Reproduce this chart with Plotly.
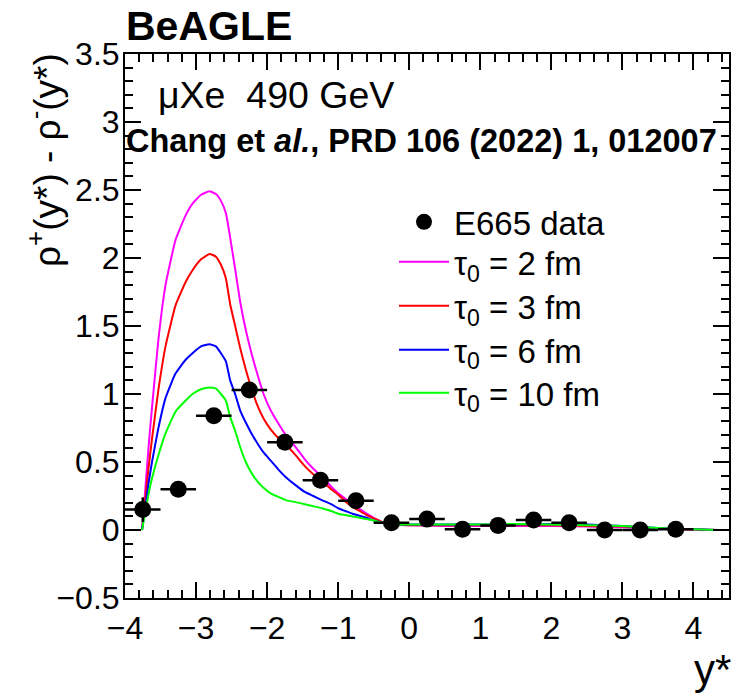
import plotly.graph_objects as go

# ---------------- data ----------------
data_x = [-3.75, -3.25, -2.75, -2.25, -1.75, -1.25, -0.75, -0.25,
          0.25, 0.75, 1.25, 1.75, 2.25, 2.75, 3.25, 3.75]
data_y = [0.15, 0.30, 0.84, 1.03, 0.645, 0.365, 0.215, 0.053,
          0.08, 0.005, 0.034, 0.073, 0.053, 0.0, 0.0, 0.005]
data_xerr = [0.25] * 16
data_yerr = [0.09, 0.02, 0.03, 0.05, 0.04, 0.03, 0.02, 0.02,
             0.02, 0.02, 0.02, 0.03, 0.02, 0.02, 0.02, 0.02]

curve_x = [-3.76, -3.72, -3.67, -3.62, -3.53, -3.43, -3.29, -3.15, -3.05, -2.93,
           -2.81, -2.72, -2.65, -2.58, -2.52, -2.45, -2.38, -2.30, -2.22, -2.14,
           -2.05, -1.95, -1.85, -1.74, -1.60, -1.47, -1.35, -1.23, -1.10, -1.00,
           -0.90, -0.80, -0.70, -0.60, -0.50, -0.43, -0.35, -0.25, 0.0, 0.5,
           1.0, 1.5, 2.0, 2.5, 3.0, 3.5, 4.0, 4.33]
tau2_y = [0.0, 0.26, 0.60, 0.90, 1.40, 1.80, 2.13, 2.31, 2.40, 2.465,
          2.49, 2.47, 2.42, 2.33, 2.15, 1.92, 1.68, 1.47, 1.30, 1.15,
          1.00, 0.88, 0.79, 0.70, 0.61, 0.52, 0.45, 0.39, 0.32, 0.27,
          0.23, 0.19, 0.155, 0.12, 0.09, 0.07, 0.05, 0.04, 0.035, 0.03,
          0.03, 0.03, 0.03, 0.025, 0.02, 0.01, 0.003, 0.0]
tau3_y = [0.0, 0.20, 0.45, 0.67, 1.03, 1.35, 1.65, 1.82, 1.91, 1.99,
          2.03, 2.01, 1.95, 1.85, 1.66, 1.50, 1.34, 1.18, 1.04, 0.92,
          0.82, 0.74, 0.68, 0.63, 0.55, 0.47, 0.41, 0.36, 0.30, 0.26,
          0.21, 0.17, 0.14, 0.11, 0.085, 0.07, 0.05, 0.04, 0.035, 0.035,
          0.035, 0.035, 0.035, 0.03, 0.025, 0.012, 0.004, 0.0]
tau6_y = [0.0, 0.15, 0.34, 0.50, 0.75, 0.97, 1.15, 1.25, 1.30, 1.35,
          1.366, 1.35, 1.30, 1.24, 1.10, 1.00, 0.88, 0.79, 0.71, 0.64,
          0.57, 0.51, 0.45, 0.39, 0.33, 0.28, 0.25, 0.22, 0.19, 0.16,
          0.14, 0.12, 0.105, 0.09, 0.07, 0.06, 0.05, 0.04, 0.04, 0.04,
          0.04, 0.04, 0.045, 0.04, 0.03, 0.015, 0.005, 0.0]
tau10_y = [0.0, 0.12, 0.26, 0.38, 0.55, 0.71, 0.87, 0.95, 1.00, 1.035,
           1.048, 1.04, 1.00, 0.95, 0.83, 0.73, 0.61, 0.50, 0.42, 0.36,
           0.31, 0.27, 0.245, 0.22, 0.205, 0.19, 0.175, 0.16, 0.14, 0.12,
           0.11, 0.10, 0.09, 0.08, 0.07, 0.06, 0.05, 0.04, 0.04, 0.04,
           0.04, 0.045, 0.04, 0.035, 0.03, 0.015, 0.005, 0.0]

curves = [
    ("τ<sub>0</sub> = 2 fm", tau2_y, "#ff00ff"),
    ("τ<sub>0</sub> = 3 fm", tau3_y, "#ff0000"),
    ("τ<sub>0</sub> = 6 fm", tau6_y, "#0000ff"),
    ("τ<sub>0</sub> = 10 fm", tau10_y, "#00ff00"),
]

x_range = [-4, 4.5]
y_range = [-0.5, 3.5]

FONT = "Liberation Sans, Arial, Helvetica, sans-serif"

W, H = 742, 695
L, R, T, B = 125, 13, 54, 96.5
PW, PH = W - L - R, H - T - B


def px2paper_x(px):
    return (px - L) / PW


def px2paper_y(py):
    return (H - B - py) / PH


# legend row centres (pixels), one legend per entry
legend_rows = [222, 262, 306, 350, 393]

fig = go.Figure()

for i, (name, ys, col) in enumerate(curves):
    fig.add_trace(go.Scatter(
        x=curve_x, y=ys, mode="lines", name=name,
        line=dict(color=col, width=2, shape="spline", smoothing=0.4),
        legend="legend%d" % (i + 2),
    ))

fig.add_trace(go.Scatter(
    x=data_x, y=data_y, mode="markers", name="E665 data",
    marker=dict(color="black", size=17, symbol="circle"),
    error_x=dict(type="data", array=data_xerr, width=0, thickness=2.5, color="black"),
    error_y=dict(type="data", array=data_yerr, width=0, thickness=2.5, color="black"),
    legend="legend",
))

axis_common = dict(
    showgrid=False, zeroline=False,
    showline=True, linewidth=2, linecolor="black",
    mirror="allticks",
    ticks="inside", ticklen=16, tickwidth=1.5, tickcolor="black",
    tickfont=dict(family=FONT, size=32, color="black"),
)

fig.update_xaxes(
    range=x_range, tick0=0, dtick=1,
    minor=dict(dtick=0.2, ticks="inside", ticklen=8, tickwidth=1.5, tickcolor="black"),
    ticklabelstandoff=1,
    **axis_common,
)
fig.update_yaxes(
    range=y_range, tick0=0, dtick=0.5,
    minor=dict(dtick=0.1, ticks="inside", ticklen=8, tickwidth=1.5, tickcolor="black"),
    ticklabelstandoff=-3,
    **axis_common,
)

annotations = [
    dict(text="<b>BeAGLE</b>", x=px2paper_x(124), y=px2paper_y(26), xanchor="left",
         yanchor="middle", font=dict(family=FONT, size=41, color="black")),
    dict(text="μXe\u00a0 490 GeV", x=px2paper_x(156), y=px2paper_y(95), xanchor="left",
         yanchor="middle", font=dict(family=FONT, size=37.5, color="black")),
    dict(text="<b>Chang et <i>al.</i>, PRD 106 (2022) 1, 012007</b>", x=px2paper_x(124),
         y=px2paper_y(141), xanchor="left", yanchor="middle",
         font=dict(family=FONT, size=32.5, color="black")),
    dict(text="y*", x=px2paper_x(733), y=px2paper_y(670), xanchor="right",
         yanchor="middle", font=dict(family=FONT, size=42, color="black")),
    dict(text="ρ<sup>+</sup>(y*) - ρ<sup>-</sup>(y*)", x=px2paper_x(44), y=px2paper_y(51),
         xanchor="center", yanchor="top", textangle=-90,
         font=dict(family=FONT, size=37, color="black")),
]
for a in annotations:
    a.update(xref="paper", yref="paper", showarrow=False)

legend_style = dict(
    xanchor="left", yanchor="middle",
    bgcolor="rgba(0,0,0,0)", borderwidth=0,
    font=dict(family=FONT, size=33, color="black"),
    itemwidth=50,
)
legends = {}
for i, row in enumerate(legend_rows):
    key = "legend" if i == 0 else "legend%d" % (i + 1)
    legends[key] = dict(x=px2paper_x(394), y=px2paper_y(row), **legend_style)

fig.update_layout(
    width=W, height=H,
    margin=dict(l=L, r=R, t=T, b=B, pad=0),
    plot_bgcolor="white", paper_bgcolor="white",
    font=dict(family=FONT, color="black"),
    annotations=annotations,
    showlegend=True,
    **legends,
)

fig.write_html("out.html", config={"displayModeBar": False},
               post_script="document.body.style.margin='0px';")
